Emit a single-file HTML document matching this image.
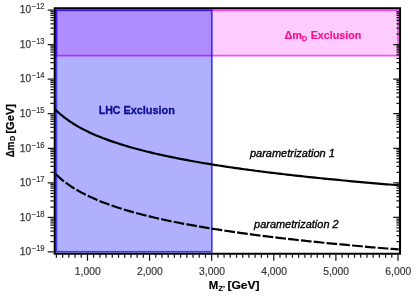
<!DOCTYPE html>
<html><head><meta charset="utf-8"><title>Exclusion plot</title>
<style>html,body{margin:0;padding:0;background:#fff;}svg{display:block;will-change:transform;}text{font-family:"Liberation Sans",sans-serif;}</style>
</head><body>
<svg width="415" height="299" viewBox="0 0 415 299">
<rect x="0" y="0" width="415" height="299" fill="#ffffff"/>
<rect x="56.4" y="10.2" width="341.60" height="45.45" fill="rgb(255,0,255)" fill-opacity="0.2" stroke="rgb(255,0,255)" stroke-opacity="0.7" stroke-width="1.7"/>
<rect x="56.4" y="10.2" width="155.45" height="241.59" fill="rgb(0,0,255)" fill-opacity="0.31" stroke="rgb(0,0,255)" stroke-opacity="0.7" stroke-width="1.7"/>
<path d="M55.00,109.21 L56.40,110.60 L59.25,113.23 L62.09,115.65 L64.94,117.89 L67.79,119.98 L70.63,121.93 L73.48,123.76 L76.33,125.48 L79.17,127.12 L82.02,128.66 L84.87,130.14 L87.71,131.54 L90.56,132.88 L93.41,134.16 L96.25,135.39 L99.10,136.57 L101.95,137.71 L104.79,138.81 L107.64,139.86 L110.49,140.88 L113.33,141.87 L116.18,142.83 L119.03,143.75 L121.87,144.65 L124.72,145.53 L127.57,146.37 L130.41,147.20 L133.26,148.00 L136.11,148.78 L138.95,149.55 L141.80,150.29 L144.65,151.01 L147.49,151.72 L150.34,152.41 L153.19,153.09 L156.03,153.75 L158.88,154.40 L161.73,155.03 L164.57,155.65 L167.42,156.26 L170.27,156.86 L173.11,157.44 L175.96,158.01 L178.81,158.57 L181.65,159.13 L184.50,159.67 L187.35,160.20 L190.19,160.72 L193.04,161.24 L195.89,161.74 L198.73,162.24 L201.58,162.73 L204.43,163.21 L207.27,163.68 L210.12,164.15 L212.97,164.61 L215.81,165.06 L218.66,165.51 L221.51,165.95 L224.35,166.38 L227.20,166.80 L230.05,167.23 L232.89,167.64 L235.74,168.05 L238.59,168.45 L241.43,168.85 L244.28,169.24 L247.13,169.63 L249.97,170.01 L252.82,170.39 L255.67,170.77 L258.51,171.14 L261.36,171.50 L264.21,171.86 L267.05,172.22 L269.90,172.57 L272.75,172.91 L275.59,173.26 L278.44,173.60 L281.29,173.93 L284.13,174.27 L286.98,174.59 L289.83,174.92 L292.67,175.24 L295.52,175.56 L298.37,175.87 L301.21,176.18 L304.06,176.49 L306.91,176.80 L309.75,177.10 L312.60,177.40 L315.45,177.70 L318.29,177.99 L321.14,178.28 L323.99,178.57 L326.83,178.85 L329.68,179.13 L332.53,179.41 L335.37,179.69 L338.22,179.96 L341.07,180.24 L343.91,180.51 L346.76,180.77 L349.61,181.04 L352.45,181.30 L355.30,181.56 L358.15,181.82 L360.99,182.07 L363.84,182.33 L366.69,182.58 L369.53,182.83 L372.38,183.08 L375.23,183.32 L378.07,183.56 L380.92,183.81 L383.77,184.05 L386.61,184.28 L389.46,184.52 L392.31,184.75 L395.15,184.98 L398.00,185.21 L398.70,185.27" fill="none" stroke="#000" stroke-width="2.2" stroke-linejoin="round"/>
<path d="M55.90,174.31 L56.40,174.80 L59.25,177.43 L62.09,179.85 L64.94,182.09 L67.79,184.18 L70.63,186.13 L73.48,187.96 L76.33,189.68 L79.17,191.32 L82.02,192.86 L84.87,194.34 L87.71,195.74 L90.56,197.08 L93.41,198.36 L96.25,199.59 L99.10,200.77 L101.95,201.91 L104.79,203.01 L107.64,204.06 L110.49,205.08 L113.33,206.07 L116.18,207.03 L119.03,207.95 L121.87,208.85 L124.72,209.73 L127.57,210.57 L130.41,211.40 L133.26,212.20 L136.11,212.98 L138.95,213.75 L141.80,214.49 L144.65,215.21 L147.49,215.92 L150.34,216.61 L153.19,217.29 L156.03,217.95 L158.88,218.60 L161.73,219.23 L164.57,219.85 L167.42,220.46 L170.27,221.06 L173.11,221.64 L175.96,222.21 L178.81,222.77 L181.65,223.33 L184.50,223.87 L187.35,224.40 L190.19,224.92 L193.04,225.44 L195.89,225.94 L198.73,226.44 L201.58,226.93 L204.43,227.41 L207.27,227.88 L210.12,228.35 L212.97,228.81 L215.81,229.26 L218.66,229.71 L221.51,230.15 L224.35,230.58 L227.20,231.00 L230.05,231.43 L232.89,231.84 L235.74,232.25 L238.59,232.65 L241.43,233.05 L244.28,233.44 L247.13,233.83 L249.97,234.21 L252.82,234.59 L255.67,234.97 L258.51,235.34 L261.36,235.70 L264.21,236.06 L267.05,236.42 L269.90,236.77 L272.75,237.11 L275.59,237.46 L278.44,237.80 L281.29,238.13 L284.13,238.47 L286.98,238.79 L289.83,239.12 L292.67,239.44 L295.52,239.76 L298.37,240.07 L301.21,240.38 L304.06,240.69 L306.91,241.00 L309.75,241.30 L312.60,241.60 L315.45,241.90 L318.29,242.19 L321.14,242.48 L323.99,242.77 L326.83,243.05 L329.68,243.33 L332.53,243.61 L335.37,243.89 L338.22,244.16 L341.07,244.44 L343.91,244.71 L346.76,244.97 L349.61,245.24 L352.45,245.50 L355.30,245.76 L358.15,246.02 L360.99,246.27 L363.84,246.53 L366.69,246.78 L369.53,247.03 L372.38,247.28 L375.23,247.52 L378.07,247.76 L380.92,248.01 L383.77,248.25 L386.61,248.48 L389.46,248.72 L392.31,248.95 L395.15,249.18 L398.00,249.41 L398.70,249.47" fill="none" stroke="#000" stroke-width="2.2" stroke-dasharray="10.7 2.16" stroke-linejoin="round"/>
<path d="M47.7,251.99H53.8 M50.4,241.58H53.8 M396.4,241.58H399 M50.4,235.50H53.8 M396.4,235.50H399 M50.4,231.18H53.8 M396.4,231.18H399 M50.4,227.83H53.8 M396.4,227.83H399 M50.4,225.09H53.8 M396.4,225.09H399 M50.4,222.77H53.8 M396.4,222.77H399 M50.4,220.77H53.8 M396.4,220.77H399 M50.4,219.00H53.8 M396.4,219.00H399 M47.7,217.42H53.8 M393.2,217.42H399 M50.4,207.01H53.8 M396.4,207.01H399 M50.4,200.93H53.8 M396.4,200.93H399 M50.4,196.61H53.8 M396.4,196.61H399 M50.4,193.26H53.8 M396.4,193.26H399 M50.4,190.52H53.8 M396.4,190.52H399 M50.4,188.20H53.8 M396.4,188.20H399 M50.4,186.20H53.8 M396.4,186.20H399 M50.4,184.43H53.8 M396.4,184.43H399 M47.7,182.85H53.8 M393.2,182.85H399 M50.4,172.44H53.8 M396.4,172.44H399 M50.4,166.36H53.8 M396.4,166.36H399 M50.4,162.04H53.8 M396.4,162.04H399 M50.4,158.69H53.8 M396.4,158.69H399 M50.4,155.95H53.8 M396.4,155.95H399 M50.4,153.63H53.8 M396.4,153.63H399 M50.4,151.63H53.8 M396.4,151.63H399 M50.4,149.86H53.8 M396.4,149.86H399 M47.7,148.28H53.8 M393.2,148.28H399 M50.4,137.87H53.8 M396.4,137.87H399 M50.4,131.79H53.8 M396.4,131.79H399 M50.4,127.47H53.8 M396.4,127.47H399 M50.4,124.12H53.8 M396.4,124.12H399 M50.4,121.38H53.8 M396.4,121.38H399 M50.4,119.06H53.8 M396.4,119.06H399 M50.4,117.06H53.8 M396.4,117.06H399 M50.4,115.29H53.8 M396.4,115.29H399 M47.7,113.71H53.8 M393.2,113.71H399 M50.4,103.30H53.8 M396.4,103.30H399 M50.4,97.22H53.8 M396.4,97.22H399 M50.4,92.90H53.8 M396.4,92.90H399 M50.4,89.55H53.8 M396.4,89.55H399 M50.4,86.81H53.8 M396.4,86.81H399 M50.4,84.49H53.8 M396.4,84.49H399 M50.4,82.49H53.8 M396.4,82.49H399 M50.4,80.72H53.8 M396.4,80.72H399 M47.7,79.14H53.8 M393.2,79.14H399 M50.4,68.73H53.8 M396.4,68.73H399 M50.4,62.65H53.8 M396.4,62.65H399 M50.4,58.33H53.8 M396.4,58.33H399 M50.4,54.98H53.8 M396.4,54.98H399 M50.4,52.24H53.8 M396.4,52.24H399 M50.4,49.92H53.8 M396.4,49.92H399 M50.4,47.92H53.8 M396.4,47.92H399 M50.4,46.15H53.8 M396.4,46.15H399 M47.7,44.57H53.8 M393.2,44.57H399 M50.4,34.16H53.8 M396.4,34.16H399 M50.4,28.08H53.8 M396.4,28.08H399 M50.4,23.76H53.8 M396.4,23.76H399 M50.4,20.41H53.8 M396.4,20.41H399 M50.4,17.67H53.8 M396.4,17.67H399 M50.4,15.35H53.8 M396.4,15.35H399 M50.4,13.35H53.8 M396.4,13.35H399 M50.4,11.58H53.8 M396.4,11.58H399 M47.7,10.00H53.8 M56.40,254.6V257.7 M62.61,254.6V257.7 M68.82,254.6V257.7 M75.03,254.6V257.7 M81.24,254.6V257.7 M87.45,254.6V260.7 M93.67,254.6V257.7 M99.88,254.6V257.7 M106.09,254.6V257.7 M112.30,254.6V257.7 M118.51,254.6V257.7 M124.72,254.6V257.7 M130.93,254.6V257.7 M137.14,254.6V257.7 M143.35,254.6V257.7 M149.56,254.6V260.7 M155.77,254.6V257.7 M161.99,254.6V257.7 M168.20,254.6V257.7 M174.41,254.6V257.7 M180.62,254.6V257.7 M186.83,254.6V257.7 M193.04,254.6V257.7 M199.25,254.6V257.7 M205.46,254.6V257.7 M211.67,254.6V260.7 M217.88,254.6V257.7 M224.09,254.6V257.7 M230.31,254.6V257.7 M236.52,254.6V257.7 M242.73,254.6V257.7 M248.94,254.6V257.7 M255.15,254.6V257.7 M261.36,254.6V257.7 M267.57,254.6V257.7 M273.78,254.6V260.7 M279.99,254.6V257.7 M286.20,254.6V257.7 M292.41,254.6V257.7 M298.63,254.6V257.7 M304.84,254.6V257.7 M311.05,254.6V257.7 M317.26,254.6V257.7 M323.47,254.6V257.7 M329.68,254.6V257.7 M335.89,254.6V260.7 M342.10,254.6V257.7 M348.31,254.6V257.7 M354.52,254.6V257.7 M360.73,254.6V257.7 M366.95,254.6V257.7 M373.16,254.6V257.7 M379.37,254.6V257.7 M385.58,254.6V257.7 M391.79,254.6V257.7 M398.00,254.6V260.7" fill="none" stroke="#1a1a1a" stroke-width="1.25"/>
<path d="M54.75,8.25H400V253.75H54.75Z" fill="none" stroke="#000" stroke-width="2.1" stroke-linejoin="miter"/>
<text x="31.2" y="255.29" font-size="10.2" fill="#3a3a3a" stroke="#3a3a3a" stroke-width="0.25" text-anchor="end">10</text>
<text x="31.7" y="251.29" font-size="8.2" fill="#3a3a3a" stroke="#3a3a3a" stroke-width="0.2" textLength="12.9" lengthAdjust="spacingAndGlyphs">−19</text>
<text x="31.2" y="220.72" font-size="10.2" fill="#3a3a3a" stroke="#3a3a3a" stroke-width="0.25" text-anchor="end">10</text>
<text x="31.7" y="216.72" font-size="8.2" fill="#3a3a3a" stroke="#3a3a3a" stroke-width="0.2" textLength="12.9" lengthAdjust="spacingAndGlyphs">−18</text>
<text x="31.2" y="186.15" font-size="10.2" fill="#3a3a3a" stroke="#3a3a3a" stroke-width="0.25" text-anchor="end">10</text>
<text x="31.7" y="182.15" font-size="8.2" fill="#3a3a3a" stroke="#3a3a3a" stroke-width="0.2" textLength="12.9" lengthAdjust="spacingAndGlyphs">−17</text>
<text x="31.2" y="151.58" font-size="10.2" fill="#3a3a3a" stroke="#3a3a3a" stroke-width="0.25" text-anchor="end">10</text>
<text x="31.7" y="147.58" font-size="8.2" fill="#3a3a3a" stroke="#3a3a3a" stroke-width="0.2" textLength="12.9" lengthAdjust="spacingAndGlyphs">−16</text>
<text x="31.2" y="117.01" font-size="10.2" fill="#3a3a3a" stroke="#3a3a3a" stroke-width="0.25" text-anchor="end">10</text>
<text x="31.7" y="113.01" font-size="8.2" fill="#3a3a3a" stroke="#3a3a3a" stroke-width="0.2" textLength="12.9" lengthAdjust="spacingAndGlyphs">−15</text>
<text x="31.2" y="82.44" font-size="10.2" fill="#3a3a3a" stroke="#3a3a3a" stroke-width="0.25" text-anchor="end">10</text>
<text x="31.7" y="78.44" font-size="8.2" fill="#3a3a3a" stroke="#3a3a3a" stroke-width="0.2" textLength="12.9" lengthAdjust="spacingAndGlyphs">−14</text>
<text x="31.2" y="47.87" font-size="10.2" fill="#3a3a3a" stroke="#3a3a3a" stroke-width="0.25" text-anchor="end">10</text>
<text x="31.7" y="43.87" font-size="8.2" fill="#3a3a3a" stroke="#3a3a3a" stroke-width="0.2" textLength="12.9" lengthAdjust="spacingAndGlyphs">−13</text>
<text x="31.2" y="13.30" font-size="10.2" fill="#3a3a3a" stroke="#3a3a3a" stroke-width="0.25" text-anchor="end">10</text>
<text x="31.7" y="9.30" font-size="8.2" fill="#3a3a3a" stroke="#3a3a3a" stroke-width="0.2" textLength="12.9" lengthAdjust="spacingAndGlyphs">−12</text>
<text x="74.80" y="274.5" font-size="10.4" fill="#3a3a3a" stroke="#3a3a3a" stroke-width="0.2" textLength="25.9" lengthAdjust="spacingAndGlyphs">1,000</text>
<text x="136.91" y="274.5" font-size="10.4" fill="#3a3a3a" stroke="#3a3a3a" stroke-width="0.2" textLength="25.9" lengthAdjust="spacingAndGlyphs">2,000</text>
<text x="199.02" y="274.5" font-size="10.4" fill="#3a3a3a" stroke="#3a3a3a" stroke-width="0.2" textLength="25.9" lengthAdjust="spacingAndGlyphs">3,000</text>
<text x="261.13" y="274.5" font-size="10.4" fill="#3a3a3a" stroke="#3a3a3a" stroke-width="0.2" textLength="25.9" lengthAdjust="spacingAndGlyphs">4,000</text>
<text x="323.24" y="274.5" font-size="10.4" fill="#3a3a3a" stroke="#3a3a3a" stroke-width="0.2" textLength="25.9" lengthAdjust="spacingAndGlyphs">5,000</text>
<text x="385.35" y="274.5" font-size="10.4" fill="#3a3a3a" stroke="#3a3a3a" stroke-width="0.2" textLength="25.9" lengthAdjust="spacingAndGlyphs">6,000</text>
<text x="98.7" y="114.2" font-size="11.6" font-weight="bold" fill="#0c0c90" stroke="#0c0c90" stroke-width="0.3" textLength="21.8" lengthAdjust="spacingAndGlyphs">LHC</text>
<text x="123.4" y="114.2" font-size="11.6" font-weight="bold" fill="#0c0c90" stroke="#0c0c90" stroke-width="0.3" textLength="51.4" lengthAdjust="spacingAndGlyphs">Exclusion</text>
<text x="284.5" y="39.2" font-size="11.6" font-weight="bold" fill="#f5128c" stroke="#f5128c" stroke-width="0.2" textLength="17.6" lengthAdjust="spacingAndGlyphs">Δm</text>
<text x="301.7" y="41.1" font-size="7.6" font-weight="bold" fill="#f5128c" stroke="#f5128c" stroke-width="0.2">D</text>
<text x="310.7" y="39.2" font-size="11.6" font-weight="bold" fill="#f5128c" stroke="#f5128c" stroke-width="0.2" textLength="50.6" lengthAdjust="spacingAndGlyphs">Exclusion</text>
<text x="249.9" y="157.2" font-size="11" font-style="italic" fill="#000" stroke="#000" stroke-width="0.35" textLength="85" lengthAdjust="spacingAndGlyphs">parametrization 1</text>
<text x="254.1" y="227.7" font-size="11" font-style="italic" fill="#000" stroke="#000" stroke-width="0.35" textLength="84.5" lengthAdjust="spacingAndGlyphs">parametrization 2</text>
<text x="208.8" y="289.0" font-size="11.4" font-weight="bold" fill="#000" stroke="#000" stroke-width="0.2">M</text>
<text x="218.6" y="290.7" font-size="7.3" font-weight="bold" fill="#000" stroke="#000" stroke-width="0.2">Z’</text>
<text x="227.4" y="289.0" font-size="11.4" font-weight="bold" fill="#000" stroke="#000" stroke-width="0.2" textLength="32.2" lengthAdjust="spacingAndGlyphs">[GeV]</text>
<g transform="translate(13.7,157.2) rotate(-90)">
<text x="0" y="0" font-size="11.4" font-weight="bold" fill="#000" stroke="#000" stroke-width="0.25" textLength="15.6" lengthAdjust="spacingAndGlyphs">Δm</text>
<text x="16.2" y="0.9" font-size="7.2" font-weight="bold" fill="#000" stroke="#000" stroke-width="0.2">D</text>
<text x="23.6" y="0" font-size="11.4" font-weight="bold" fill="#000" stroke="#000" stroke-width="0.25" textLength="29.6" lengthAdjust="spacingAndGlyphs">[GeV]</text>
</g>
</svg>
</body></html>
